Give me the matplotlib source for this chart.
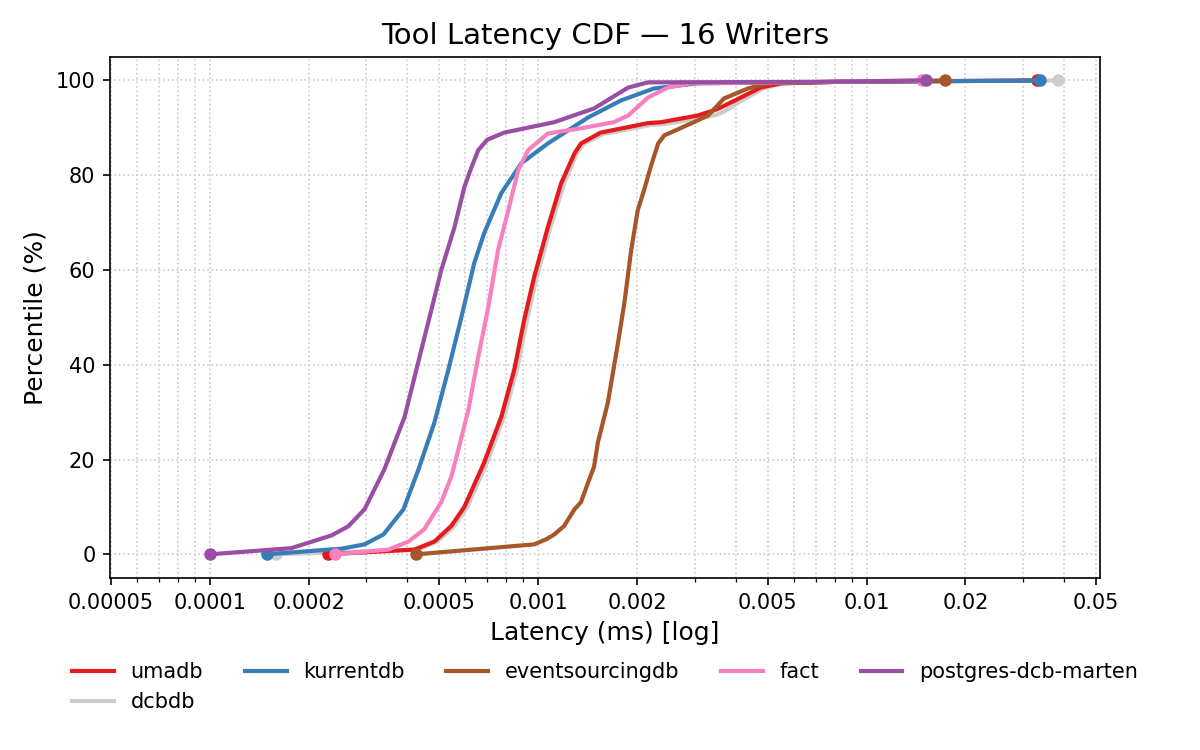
import matplotlib
matplotlib.use("Agg")
import matplotlib.pyplot as plt
from matplotlib.ticker import FixedLocator, FixedFormatter, LogLocator, NullFormatter

# latency (ms) and percentile
umadb_x = [0.000229, 0.00042, 0.000483, 0.000544, 0.000596, 0.000685, 0.000772, 0.000846,
           0.000907, 0.000972, 0.00107, 0.001175, 0.00129, 0.00135, 0.00155, 0.00216,
           0.00237, 0.00306, 0.00343, 0.0036, 0.00414, 0.00476, 0.00548, 0.008, 0.0331]
umadb_y = [0, 1.0, 2.7, 6.0, 10.0, 19.4, 29.0, 39.0, 49.5, 58.5, 69.0, 78.3, 84.6, 86.7, 89.0,
           91.0, 91.2, 92.6, 93.7, 94.3, 96.4, 98.5, 99.4, 99.7, 100]

kurrentdb_x = [0.000149, 0.000252, 0.000296, 0.000338, 0.000389, 0.000432, 0.000483, 0.000533,
               0.000584, 0.000639, 0.000685, 0.000772, 0.000888, 0.00107, 0.00142, 0.00179,
               0.00225, 0.00306, 0.008, 0.0338]
kurrentdb_y = [0, 1.2, 2.1, 4.2, 9.5, 17.9, 27.8, 39.0, 50.1, 61.5, 67.8, 76.2, 82.5, 86.7,
               92.2, 95.8, 98.3, 99.4, 99.7, 100]

eventsourcingdb_x = [0.000426, 0.000972, 0.00106, 0.00112, 0.00120, 0.00129, 0.00135, 0.00142,
                     0.00148, 0.00152, 0.00163, 0.00175, 0.00183, 0.00192, 0.00201, 0.00210,
                     0.00220, 0.00232, 0.00242, 0.00298, 0.00329, 0.00368, 0.00435, 0.0050,
                     0.008, 0.0173]
eventsourcingdb_y = [0, 2.1, 3.2, 4.2, 6.0, 9.5, 11.0, 15.2, 18.5, 23.6, 32.0, 44.6, 53.0, 64.2,
                     72.6, 76.8, 81.7, 86.7, 88.4, 91.2, 92.6, 96.2, 98.3, 99.4, 99.7, 100]

fact_x = [0.00024, 0.00035, 0.000403, 0.00045, 0.000507, 0.000544, 0.000571, 0.000613, 0.000657,
          0.000705, 0.000755, 0.000811, 0.000869, 0.000932, 0.00107, 0.00135, 0.0017, 0.00188,
          0.00216, 0.00248, 0.00292, 0.007, 0.0148]
fact_y = [0, 1.0, 2.7, 5.3, 11.0, 16.4, 22.0, 30.5, 41.7, 52.2, 64.2, 72.6, 81.0, 85.3, 88.8,
          89.9, 91.2, 92.6, 96.4, 98.5, 99.4, 99.7, 100]

marten_x = [0.0001, 0.000177, 0.000235, 0.000264, 0.000296, 0.00034, 0.000392, 0.000441,
            0.000473, 0.000507, 0.000556, 0.000596, 0.000625, 0.000657, 0.00070, 0.000789,
            0.00112, 0.00148, 0.00188, 0.00216, 0.007, 0.0152]
marten_y = [0, 1.3, 4.0, 5.9, 9.5, 17.9, 29.0, 43.2, 51.6, 60.0, 69.0, 77.5, 81.5, 85.3, 87.5,
            89.0, 91.2, 94.1, 98.5, 99.6, 99.7, 100]

dcbdb_x = [0.000159, 0.00043, 0.000493, 0.000556, 0.000608, 0.000699, 0.000787, 0.000862,
           0.000925, 0.000990, 0.00109, 0.00120, 0.00131, 0.00138, 0.00158, 0.00220,
           0.00242, 0.00312, 0.0035, 0.0037, 0.00422, 0.00485, 0.0056, 0.008, 0.0384]
dcbdb_y = [0, 1.0, 2.7, 6.0, 10.0, 19.4, 29.0, 39.0, 49.5, 58.5, 69.0, 78.3, 84.6, 86.7, 88.7,
           90.6, 90.8, 92.0, 92.8, 93.5, 96.0, 98.3, 99.4, 99.7, 100]

series = [
    ("umadb", umadb_x, umadb_y, "#e41a1c", 3),
    ("kurrentdb", kurrentdb_x, kurrentdb_y, "#377eb8", 3),
    ("eventsourcingdb", eventsourcingdb_x, eventsourcingdb_y, "#a65628", 3),
    ("fact", fact_x, fact_y, "#f781bf", 3),
    ("postgres-dcb-marten", marten_x, marten_y, "#984ea3", 3),
    ("dcbdb", dcbdb_x, dcbdb_y, "#cccccc", 2),
]

fig = plt.figure(figsize=(8, 5), dpi=150)
ax = fig.add_axes([0.0917, 0.2293, 0.825, 0.695])

handles = {}
for name, xs, ys, color, z in series:
    line, = ax.plot(xs, ys, color=color, lw=2, label=name, zorder=z)
    handles[name] = line
    # start and end markers
    ax.plot([xs[0], xs[-1]], [ys[0], ys[-1]], "o", color=color, ms=5, zorder=z)

ax.set_xscale("log")
ax.set_xlim(4.97e-5, 0.0514)
ax.set_ylim(-5, 105)

ticks = [0.00005, 0.0001, 0.0002, 0.0005, 0.001, 0.002, 0.005, 0.01, 0.02, 0.05]
labels = ["0.00005", "0.0001", "0.0002", "0.0005", "0.001", "0.002", "0.005", "0.01", "0.02", "0.05"]
ax.xaxis.set_major_locator(FixedLocator(ticks))
ax.xaxis.set_major_formatter(FixedFormatter(labels))
ax.xaxis.set_minor_locator(LogLocator(base=10, subs=range(2, 10)))
ax.xaxis.set_minor_formatter(NullFormatter())
ax.set_yticks([0, 20, 40, 60, 80, 100])

ax.grid(True, which="both", linestyle=":", color="#cccccc", linewidth=0.8)
ax.set_axisbelow(True)

ax.set_title("Tool Latency CDF — 16 Writers", fontsize=14)
ax.set_xlabel("Latency (ms) [log]", fontsize=12)
ax.set_ylabel("Percentile (%)", fontsize=12)

# legend is filled column by column, so order it to read row by row
order = ["umadb", "dcbdb", "kurrentdb", "eventsourcingdb", "fact", "postgres-dcb-marten"]
ax.legend([handles[n] for n in order], order, loc="upper center",
          bbox_to_anchor=(0.5, -0.125), ncol=5, frameon=False,
          fontsize=10, handlelength=2, columnspacing=2.0)

fig.savefig("out.png", dpi=150)
